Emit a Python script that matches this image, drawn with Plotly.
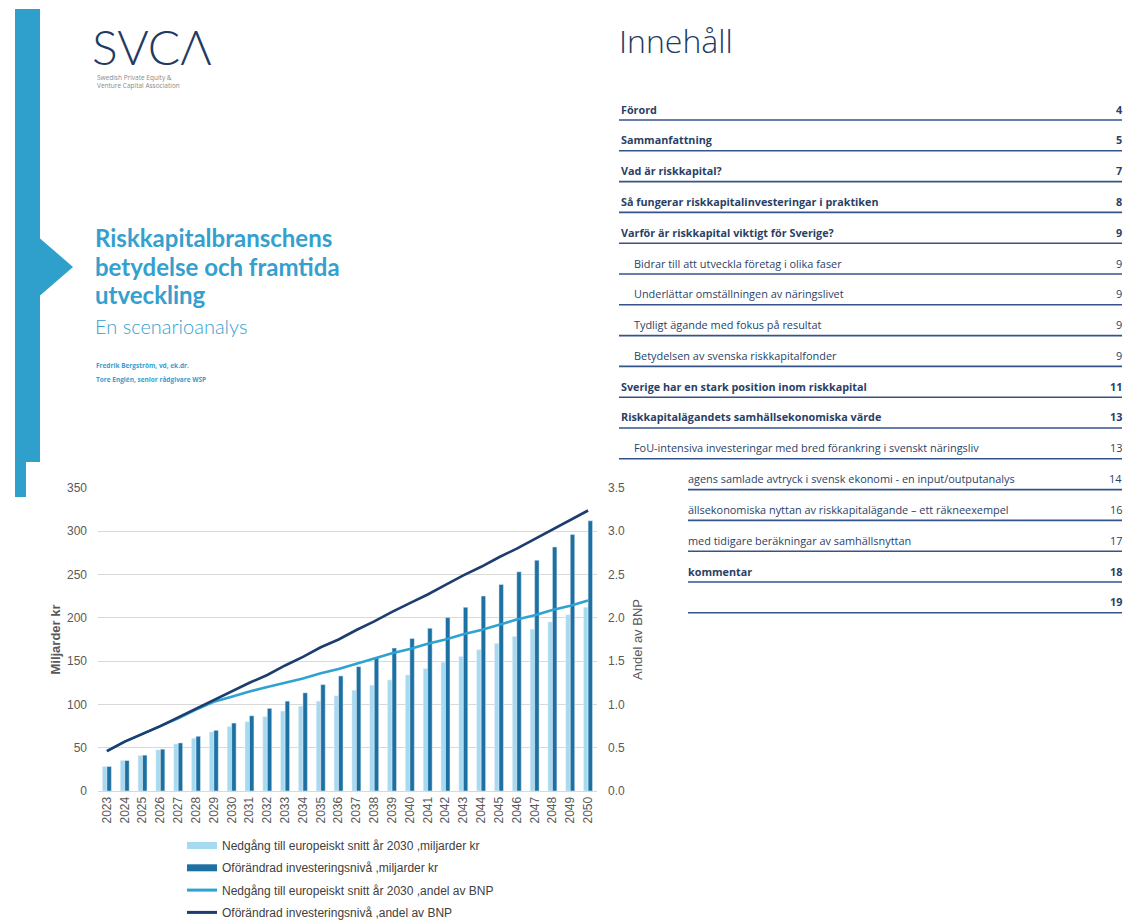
import plotly.graph_objects as go

W, H = 1127, 922

# ---------------- data ----------------
years = [str(y) for y in range(2023, 2051)]
eu_bn = [28.3, 35.2, 41.0, 47.5, 54.4, 60.9, 68.2, 74.3, 80.0, 85.8, 92.3, 98.0, 103.8, 109.9,
         116.4, 122.2, 128.3, 134.0, 141.3, 148.6, 155.5, 163.2, 170.4, 178.5, 186.9, 195.3, 203.7, 212.2]
unch_bn = [28.3, 35.2, 41.4, 48.3, 55.5, 63.2, 70.1, 78.5, 86.9, 95.4, 103.8, 113.4, 122.9, 132.9,
           143.6, 154.0, 165.1, 176.2, 188.0, 200.3, 212.2, 225.2, 238.6, 253.2, 266.6, 281.9, 296.4, 312.1]
eu_gdp = [0.46, 0.57, 0.66, 0.75, 0.84, 0.94, 1.03, 1.09, 1.15, 1.20, 1.25, 1.30, 1.36, 1.41,
          1.47, 1.53, 1.59, 1.64, 1.70, 1.75, 1.81, 1.86, 1.92, 1.98, 2.03, 2.09, 2.14, 2.20]
unch_gdp = [0.46, 0.57, 0.66, 0.75, 0.85, 0.95, 1.05, 1.15, 1.25, 1.34, 1.45, 1.55, 1.66, 1.75,
            1.86, 1.96, 2.07, 2.17, 2.27, 2.38, 2.49, 2.59, 2.70, 2.80, 2.91, 3.02, 3.13, 3.24]

series_names = ["Nedgång till europeiskt snitt år 2030 ,miljarder kr",
                "Oförändrad investeringsnivå ,miljarder kr",
                "Nedgång till europeiskt snitt år 2030 ,andel av BNP",
                "Oförändrad investeringsnivå ,andel av BNP"]
left_axis_title = "Miljarder kr"
right_axis_title = "Andel av BNP"

toc_titles = ["Förord", "Sammanfattning", "Vad är riskkapital?",
              "Så fungerar riskkapitalinvesteringar i praktiken",
              "Varför är riskkapital viktigt för Sverige?",
              "Bidrar till att utveckla företag i olika faser",
              "Underlättar omställningen av näringslivet",
              "Tydligt ägande med fokus på resultat",
              "Betydelsen av svenska riskkapitalfonder",
              "Sverige har en stark position inom riskkapital",
              "Riskkapitalägandets samhällsekonomiska värde",
              "FoU-intensiva investeringar med bred förankring i svenskt näringsliv",
              "agens samlade avtryck i svensk ekonomi - en input/outputanalys",
              "ällsekonomiska nyttan av riskkapitalägande – ett räkneexempel",
              "med tidigare beräkningar av samhällsnyttan",
              "kommentar",
              ""]
toc_pages = ["4", "5", "7", "8", "9", "9", "9", "9", "9", "11", "13", "13", "14", "16", "17", "18", "19"]
toc_bold = [True, True, True, True, True, False, False, False, False, True, True, False,
            False, False, False, True, True]
toc_indent = [False, False, False, False, False, True, True, True, True, False, False, True,
              None, None, None, None, None]

# ---------------- styles ----------------
LIGHT_BAR = "#a6daf0"
DARK_BAR = "#1d70a2"
LIGHT_LINE = "#2ea2d2"
DARK_LINE = "#1c3d6e"
PAGE_BLUE = "#2f9fcb"
NAVY = "#1f3b63"
TOC_TEXT = "#2a3f66"
TOC_LINE = "#34548a"
AXIS_TXT = "#595959"


def px(x):
    return x / W


def py(y):
    return 1 - y / H


fig = go.Figure()
fig.add_trace(go.Bar(x=years, y=eu_bn, name=series_names[0], marker_color=LIGHT_BAR,
                     showlegend=False, yaxis="y"))
fig.add_trace(go.Bar(x=years, y=unch_bn, name=series_names[1], marker_color=DARK_BAR,
                     showlegend=False, yaxis="y"))
fig.add_trace(go.Scatter(x=years, y=eu_gdp, name=series_names[2], mode="lines",
                         line=dict(color=LIGHT_LINE, width=2.6), yaxis="y2", showlegend=False))
fig.add_trace(go.Scatter(x=years, y=unch_gdp, name=series_names[3], mode="lines",
                         line=dict(color=DARK_LINE, width=2.6), yaxis="y2", showlegend=False))

# legend entries (Excel-style wide swatches)
leg_styles = [(LIGHT_BAR, 7), (DARK_BAR, 7), (LIGHT_LINE, 3), (DARK_LINE, 3)]
for i, (nm, (col, wd)) in enumerate(zip(series_names, leg_styles)):
    fig.add_trace(go.Scatter(x=[None], y=[None], mode="lines", name=nm,
                             line=dict(color=col, width=wd), legendgroup=f"g{i}",
                             showlegend=True, hoverinfo="skip"))

shapes = []
annotations = []

# left page decoration
shapes.append(dict(type="rect", xref="paper", yref="paper", x0=px(15), x1=px(40), y0=py(462), y1=py(9),
                   fillcolor=PAGE_BLUE, line_width=0, layer="below"))
shapes.append(dict(type="rect", xref="paper", yref="paper", x0=px(15), x1=px(26), y0=py(497), y1=py(462),
                   fillcolor=PAGE_BLUE, line_width=0, layer="below"))
shapes.append(dict(type="path", xref="paper", yref="paper",
                   path=f"M {px(39.5)},{py(238)} L {px(73)},{py(267)} L {px(39.5)},{py(296)} Z",
                   fillcolor=PAGE_BLUE, line_width=0, layer="below"))

annotations.append(dict(text="SVCΛ", x=px(90), y=py(47), xanchor="left", yanchor="middle",
                        font=dict(family="Lato", size=48, color=NAVY, weight=300)))
annotations.append(dict(text="Swedish Private Equity &<br>Venture Capital Association", x=px(95), y=py(82),
                        xanchor="left", yanchor="middle", align="left",
                        font=dict(family="Open Sans", size=6.5, color="#8a8a8a")))
for txt, yy in [("Riskkapitalbranschens", 237), ("betydelse och framtida", 266), ("utveckling", 294)]:
    annotations.append(dict(text=f"<b>{txt}</b>", x=px(93), y=py(yy), xanchor="left", yanchor="middle",
                            font=dict(family="Lato", size=24, color="#35a0cf")))
annotations.append(dict(text="En scenarioanalys", x=px(93), y=py(326), xanchor="left", yanchor="middle",
                        font=dict(family="Lato", size=20, color="#35a0cf", weight=300)))
annotations.append(dict(text="<b>Fredrik Bergström, vd, ek.dr.</b>", x=px(94), y=py(365), xanchor="left",
                        yanchor="middle", font=dict(family="Open Sans", size=6.5, color="#35a0cf")))
annotations.append(dict(text="<b>Tore Englén, senior rådgivare WSP</b>", x=px(94), y=py(379), xanchor="left",
                        yanchor="middle", font=dict(family="Open Sans", size=6.5, color="#35a0cf")))

# right page: table of contents
annotations.append(dict(text="Innehåll", x=px(617), y=py(40), xanchor="left", yanchor="middle",
                        font=dict(family="Open Sans", size=32, color=NAVY, weight=300)))
row_y0 = 109
row_step = 30.8
for i, (t, p, b, ind) in enumerate(zip(toc_titles, toc_pages, toc_bold, toc_indent)):
    yc = row_y0 + i * row_step
    yl = yc + 11
    if ind is None:
        x_line = 688
        x_txt = 686
    else:
        x_line = 619
        x_txt = 632 if ind else 619
    fs = 10.8 if b else 10.9
    if t:
        annotations.append(dict(text=f"<b>{t}</b>" if b else t, x=px(x_txt), y=py(yc), xanchor="left",
                                yanchor="middle", font=dict(family="Open Sans", size=fs, color=TOC_TEXT)))
    annotations.append(dict(text=f"<b>{p}</b>" if b else p, x=px(1124), y=py(yc), xanchor="right",
                            yanchor="middle", font=dict(family="Open Sans", size=fs, color=TOC_TEXT)))
    shapes.append(dict(type="line", xref="paper", yref="paper", x0=px(x_line), x1=px(1122),
                       y0=py(yl), y1=py(yl), line=dict(color=TOC_LINE, width=1.6)))

fig.update_layout(
    width=W, height=H, autosize=False,
    margin=dict(l=0, r=0, t=0, b=0, autoexpand=False),
    paper_bgcolor="white", plot_bgcolor="white",
    barmode="group", bargap=0.5, bargroupgap=0,
    font=dict(family="Liberation Sans", size=12, color=AXIS_TXT),
    xaxis=dict(domain=[px(98), px(597)], type="category", tickangle=-90, showgrid=False,
               showline=True, linecolor="#d9d9d9", linewidth=1, ticks="",
               tickfont=dict(size=12, color=AXIS_TXT)),
    yaxis=dict(domain=[py(791), py(488)], range=[0, 350], dtick=50, showgrid=True,
               gridcolor="#d9d9d9", gridwidth=1, zeroline=False, showline=False,
               ticklabelstandoff=10, tickfont=dict(size=12, color=AXIS_TXT),
               title=dict(text=f"<b>{left_axis_title}</b>", standoff=3,
                          font=dict(size=13, color=AXIS_TXT))),
    yaxis2=dict(overlaying="y", side="right", range=[0, 3.5], dtick=0.5, tickformat=".1f",
                showgrid=False, zeroline=False, showline=False, ticklabelstandoff=10,
                tickfont=dict(size=12, color=AXIS_TXT),
                title=dict(text=right_axis_title, standoff=8, font=dict(size=13, color=AXIS_TXT))),
    legend=dict(x=px(182), y=py(831), xanchor="left", yanchor="top", orientation="v",
                font=dict(size=12, color="#404040"), bgcolor="rgba(0,0,0,0)",
                tracegroupgap=3.3, traceorder="grouped", itemwidth=30),
    shapes=shapes,
    annotations=[dict(a, xref="paper", yref="paper", showarrow=False) for a in annotations],
)

fig.write_html("out.html", config={"displayModeBar": False},
               post_script="document.body.style.margin='0';")
